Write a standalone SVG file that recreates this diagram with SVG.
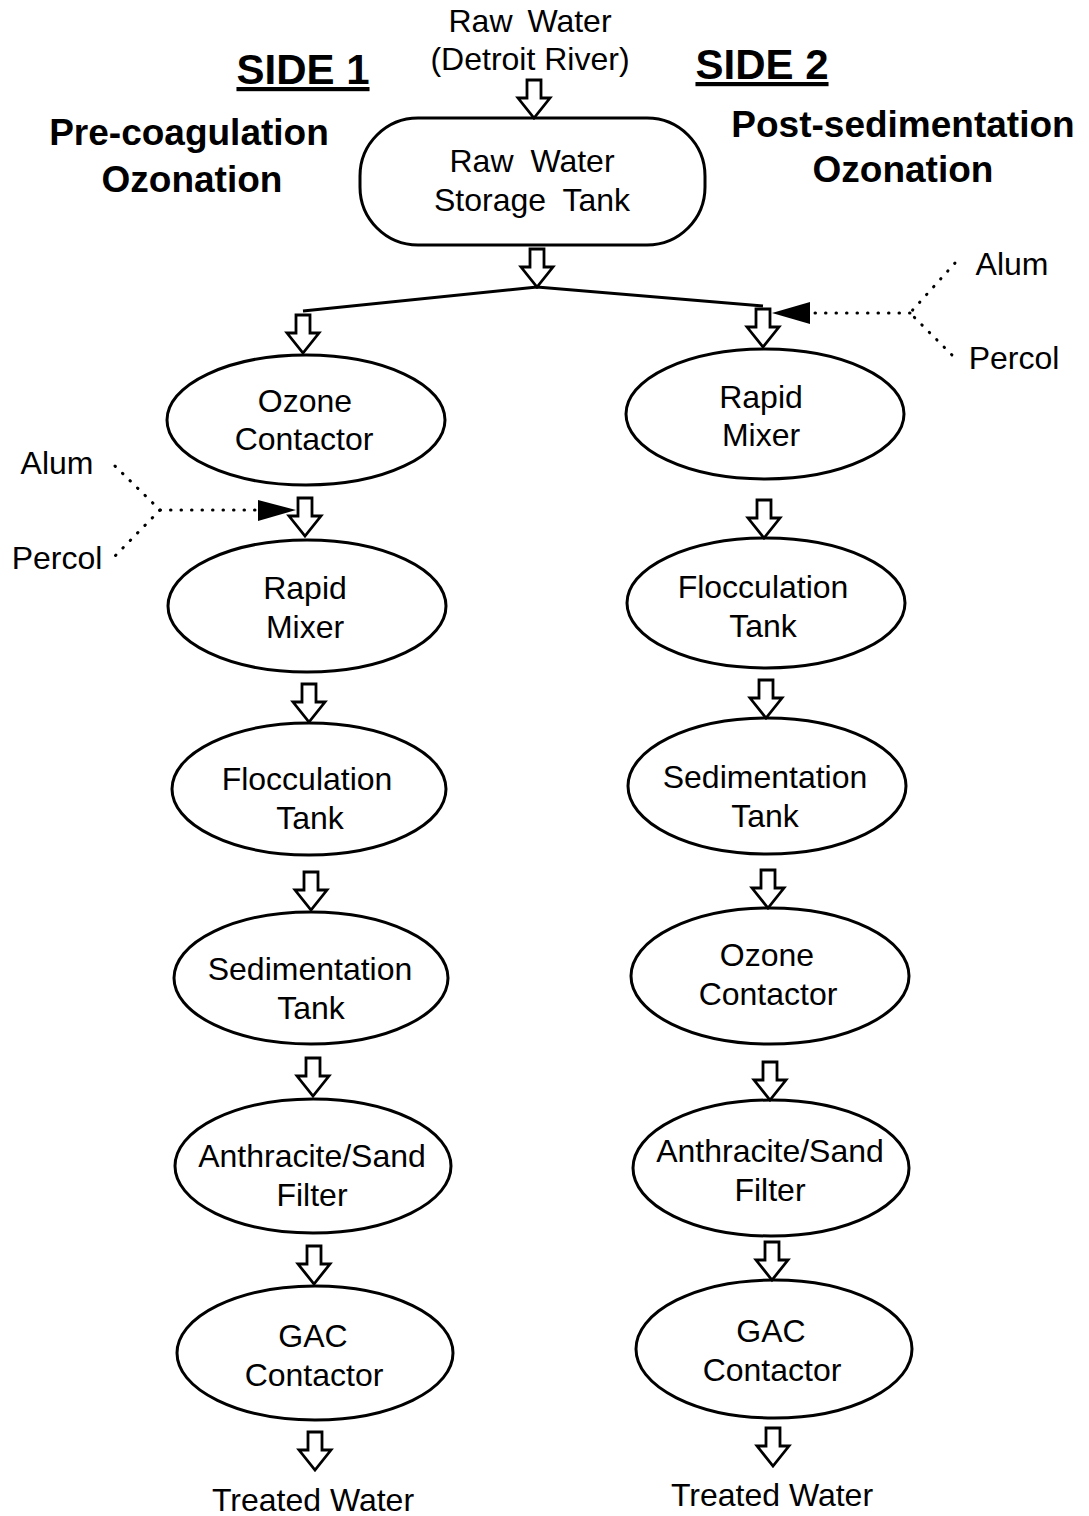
<svg xmlns="http://www.w3.org/2000/svg" width="1089" height="1516" viewBox="0 0 1089 1516">
<style>
text{font-family:"Liberation Sans",Arial,sans-serif;fill:#000}
.n{font-size:32px;text-anchor:middle}
.t{font-size:37px;font-weight:bold;text-anchor:middle}
.s{font-size:42px;font-weight:bold;text-anchor:middle;text-decoration:underline}
.l{font-size:32px;text-anchor:middle}
.shape{fill:#fff;stroke:#000;stroke-width:3}
.arr{fill:#fff;stroke:#000;stroke-width:2.8;stroke-linejoin:miter}
.dot{fill:none;stroke:#000;stroke-width:3;stroke-dasharray:0.5 10;stroke-linecap:round}
.line{fill:none;stroke:#000;stroke-width:3}
</style>
<defs>
<path id="ha" d="M-7,0 V18 H-16 L0,38 L16,18 H7 V0 Z"/>
</defs>
<rect width="1089" height="1516" fill="#fff"/>

<g id="titles">
<text class="s" x="303" y="84">SIDE 1</text>
<text class="s" x="762" y="79">SIDE 2</text>
<text class="t" x="189" y="145">Pre-coagulation</text>
<text class="t" x="192" y="192">Ozonation</text>
<text class="t" x="903" y="137">Post-sedimentation</text>
<text class="t" x="903" y="182">Ozonation</text>
</g>

<g id="raw-water">
<text class="n" x="530" y="32" word-spacing="6">Raw Water</text>
<text class="n" x="530" y="70">(Detroit River)</text>
</g>

<g id="storage-tank">
<rect class="shape" x="360" y="118" width="345" height="127" rx="58" ry="58"/>
<text class="n" x="532" y="172" word-spacing="8">Raw Water</text>
<text class="n" x="532" y="211" word-spacing="8">Storage Tank</text>
</g>

<g id="l-ozone">
<ellipse class="shape" cx="306" cy="420" rx="139" ry="65"/>
<text class="n" x="305" y="412">Ozone</text>
<text class="n" x="304" y="450">Contactor</text>
</g>
<g id="l-rapid">
<ellipse class="shape" cx="307" cy="606" rx="139" ry="66"/>
<text class="n" x="305" y="599">Rapid</text>
<text class="n" x="305" y="638">Mixer</text>
</g>
<g id="l-floc">
<ellipse class="shape" cx="309" cy="789" rx="137" ry="66"/>
<text class="n" x="307" y="790">Flocculation</text>
<text class="n" x="310" y="829">Tank</text>
</g>
<g id="l-sed">
<ellipse class="shape" cx="311" cy="978" rx="137" ry="66"/>
<text class="n" x="310" y="980">Sedimentation</text>
<text class="n" x="311" y="1019">Tank</text>
</g>
<g id="l-anth">
<ellipse class="shape" cx="313" cy="1166" rx="138" ry="67"/>
<text class="n" x="312" y="1167">Anthracite/Sand</text>
<text class="n" x="312" y="1206">Filter</text>
</g>
<g id="l-gac">
<ellipse class="shape" cx="315" cy="1353" rx="138" ry="67"/>
<text class="n" x="313" y="1347">GAC</text>
<text class="n" x="314" y="1386">Contactor</text>
</g>
<g id="l-out">
<text class="n" x="313" y="1511">Treated Water</text>
</g>

<g id="r-rapid">
<ellipse class="shape" cx="765" cy="414" rx="139" ry="65"/>
<text class="n" x="761" y="408">Rapid</text>
<text class="n" x="761" y="446">Mixer</text>
</g>
<g id="r-floc">
<ellipse class="shape" cx="766" cy="603" rx="139" ry="65"/>
<text class="n" x="763" y="598">Flocculation</text>
<text class="n" x="763" y="637">Tank</text>
</g>
<g id="r-sed">
<ellipse class="shape" cx="767" cy="786" rx="139" ry="68"/>
<text class="n" x="765" y="788">Sedimentation</text>
<text class="n" x="765" y="827">Tank</text>
</g>
<g id="r-ozone">
<ellipse class="shape" cx="770" cy="976" rx="139" ry="68"/>
<text class="n" x="767" y="966">Ozone</text>
<text class="n" x="768" y="1005">Contactor</text>
</g>
<g id="r-anth">
<ellipse class="shape" cx="771" cy="1168" rx="138" ry="68"/>
<text class="n" x="770" y="1162">Anthracite/Sand</text>
<text class="n" x="770" y="1201">Filter</text>
</g>
<g id="r-gac">
<ellipse class="shape" cx="774" cy="1349" rx="138" ry="69"/>
<text class="n" x="771" y="1342">GAC</text>
<text class="n" x="772" y="1381">Contactor</text>
</g>
<g id="r-out">
<text class="n" x="772" y="1506">Treated Water</text>
</g>

<g id="chem-left">
<text class="l" x="57" y="474">Alum</text>
<text class="l" x="57" y="569">Percol</text>
</g>
<g id="chem-right">
<text class="l" x="1012" y="275">Alum</text>
<text class="l" x="1014" y="369">Percol</text>
</g>

<g id="connectors">
<polyline class="line" points="303,311 537,287 763,306"/>
<use href="#ha" class="arr" x="534" y="80"/>
<use href="#ha" class="arr" x="537" y="249"/>
<use href="#ha" class="arr" x="303" y="315"/>
<use href="#ha" class="arr" x="763" y="309"/>
<use href="#ha" class="arr" x="305" y="498"/>
<use href="#ha" class="arr" x="309" y="684"/>
<use href="#ha" class="arr" x="311" y="872"/>
<use href="#ha" class="arr" x="313" y="1058"/>
<use href="#ha" class="arr" x="314" y="1246"/>
<use href="#ha" class="arr" x="315" y="1432"/>
<use href="#ha" class="arr" x="764" y="500"/>
<use href="#ha" class="arr" x="766" y="680"/>
<use href="#ha" class="arr" x="768" y="870"/>
<use href="#ha" class="arr" x="770" y="1062"/>
<use href="#ha" class="arr" x="772" y="1242"/>
<use href="#ha" class="arr" x="773" y="1428"/>
<polyline class="dot" points="115,466 160,510 115,556"/>
<line class="dot" x1="160" y1="510" x2="258" y2="510"/>
<polygon points="258,500 296,510 258,521" fill="#000"/>
<polyline class="dot" points="955,263 910,313 955,358"/>
<line class="dot" x1="910" y1="313" x2="810" y2="313"/>
<polygon points="810,302 772,313 810,324" fill="#000"/>
</g>
</svg>
